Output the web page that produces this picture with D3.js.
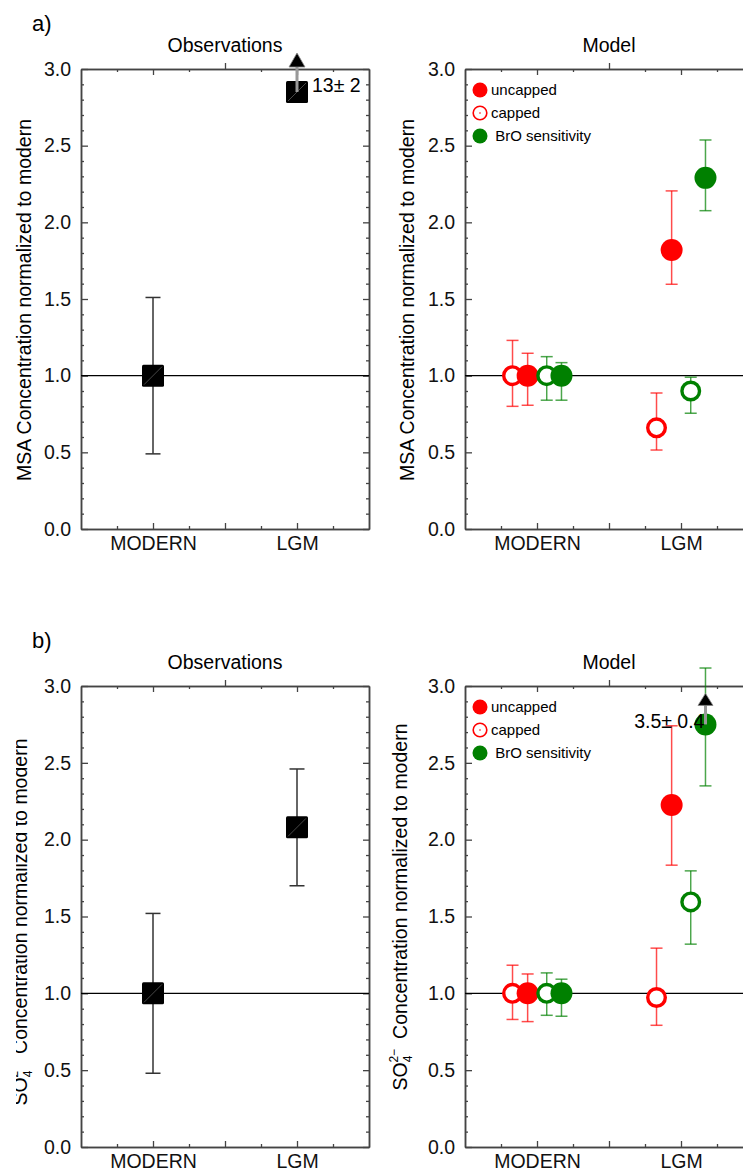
<!DOCTYPE html>
<html lang="en">
<head>
<meta charset="UTF-8">
<title>MSA and sulfate: LGM vs modern</title>
<script src="https://cdn.jsdelivr.net/npm/d3@7"></script>
<style>
  body { margin: 0; background: #fff; }
  svg { display: block; font-family: "Liberation Sans", Arial, sans-serif; }
</style>
</head>
<body>
<svg id="chart" width="743" height="1169"></svg>
<script>
// x categories live in a 0..8 frame
const categories = ["MODERN", "LGM"];
const categoryPos = [2, 6];
const yTicks = [0, 0.5, 1.0, 1.5, 2.0, 2.5, 3.0];

// observations (normalized to modern)
const obsMsaValue = [1.0, 2.85];
const obsMsaLow = [0.49, null];
const obsMsaHigh = [1.51, null];
const obsSo4Value = [1.0, 2.08];
const obsSo4Low = [0.48, 1.70];
const obsSo4High = [1.52, 2.46];

// model series: capped, uncapped, BrO capped, BrO sensitivity
const seriesNames = ["capped", "uncapped", "BrO capped", "BrO sensitivity"];
const modelMsaValue = [[1.0, 0.66], [1.0, 1.82], [1.0, 0.90], [1.0, 2.29]];
const modelMsaLow = [[0.80, 0.515], [0.807, 1.596], [0.84, 0.755], [0.84, 2.076]];
const modelMsaHigh = [[1.23, 0.887], [1.146, 2.205], [1.124, 0.99], [1.085, 2.537]];
const modelSo4Value = [[1.0, 0.973], [1.0, 2.225], [1.0, 1.595], [1.0, 2.75]];
const modelSo4Low = [[0.83, 0.792], [0.816, 1.834], [0.857, 1.32], [0.851, 2.35]];
const modelSo4High = [[1.183, 1.294], [1.126, 2.741], [1.133, 1.797], [1.092, 3.117]];

// off-scale values written next to an arrow
const obsMsaNote = [null, "13\u00b1 2"];
const modelSo4Note = [null, null, null, [null, "3.5\u00b1 0.4"]];

const legendItems = ["uncapped", "capped", " BrO sensitivity"];

// styling per model series
const seriesStyle = [
  { color: "#ff0000", open: true, dx: -0.68 },
  { color: "#ff0000", open: false, dx: -0.26 },
  { color: "#008000", open: true, dx: 0.27 },
  { color: "#008000", open: false, dx: 0.68 }
];

const svg = d3.select("#chart");
const FONT = 19.5;
const axisColor = "#444";

function styleAxis(g) {
  g.select(".domain").attr("stroke", axisColor).attr("stroke-width", 1.5);
  g.selectAll(".tick line").attr("stroke", axisColor).attr("stroke-width", 1.3);
  g.selectAll("text").attr("font-size", FONT).attr("fill", "#111")
    .attr("font-family", "Liberation Sans, Arial, sans-serif");
}

function so4Label(text) {
  text.append("tspan").text("SO");
  text.append("tspan").attr("font-size", 12).attr("dy", 5).text("4");
  text.append("tspan").attr("font-size", 12).attr("dx", -7).attr("dy", -14).text("2\u2212");
  text.append("tspan").attr("dy", 9).attr("dx", 10).text("Concentration normalized to modern");
}

function drawPanel(p) {
  const x = d3.scaleLinear().domain([0, 8]).range([p.left, p.left + 288]);
  const y = d3.scaleLinear().domain([0, 3]).range([p.bottom, p.top]);
  const g = svg.append("g");
  const minorY = d3.range(0, 31).map(d => d / 10).filter(d => Math.round(d * 10) % 5 !== 0);

  // frame with inward ticks
  g.append("g").attr("transform", `translate(${p.left},0)`)
    .call(d3.axisLeft(y).tickValues(minorY).tickSize(-3).tickSizeOuter(0).tickFormat(""))
    .call(styleAxis);
  g.append("g").attr("transform", `translate(${p.left},0)`)
    .call(d3.axisLeft(y).tickValues(yTicks).tickSize(-7).tickSizeOuter(0).tickPadding(10)
      .tickFormat(d3.format(".1f")))
    .call(styleAxis);
  g.append("g").attr("transform", `translate(${x.range()[1]},0)`)
    .call(d3.axisRight(y).tickValues(minorY).tickSize(-3).tickSizeOuter(0).tickFormat(""))
    .call(styleAxis);
  g.append("g").attr("transform", `translate(${x.range()[1]},0)`)
    .call(d3.axisRight(y).tickValues(yTicks).tickSize(-6).tickSizeOuter(0).tickFormat(""))
    .call(styleAxis);
  g.append("g").attr("transform", `translate(0,${p.top})`)
    .call(d3.axisTop(x).tickValues([1, 3, 5, 7]).tickSize(-3).tickSizeOuter(0).tickFormat(""))
    .call(styleAxis);
  g.append("g").attr("transform", `translate(0,${p.top})`)
    .call(d3.axisTop(x).tickValues([2, 4, 6]).tickSize(-6).tickSizeOuter(0).tickFormat(""))
    .call(styleAxis);
  g.append("g").attr("transform", `translate(0,${p.bottom})`)
    .call(d3.axisBottom(x).tickValues([1, 3, 4, 5, 7]).tickSize(-3).tickSizeOuter(0).tickFormat(""))
    .call(styleAxis);
  g.append("g").attr("transform", `translate(0,${p.bottom})`)
    .call(d3.axisBottom(x).tickValues(categoryPos).tickSize(-6).tickSizeOuter(0).tickPadding(7)
      .tickFormat((d, i) => categories[i]))
    .call(styleAxis);
  g.selectAll(".tick").filter(d => d === 4).select("line").attr("y2", -6);

  // title and y label
  g.append("text").attr("x", p.left + 144).attr("y", p.top - 17)
    .attr("text-anchor", "middle").attr("font-size", FONT).text(p.title);
  const labWrap = g.append("g");
  if (p.clipLabel) labWrap.attr("clip-path", "url(#labclip)");
  const lab = labWrap.append("text")
    .attr("transform", `translate(${p.labelX},${p.labelY}) rotate(-90)`)
    .attr("text-anchor", "middle").attr("font-size", FONT);
  if (p.so4) so4Label(lab); else lab.text("MSA Concentration normalized to modern");

  // reference line at 1.0
  g.append("line").attr("x1", x(0)).attr("x2", x(8)).attr("y1", y(1)).attr("y2", y(1))
    .attr("stroke", "#000").attr("stroke-width", 1.4);

  return { g, x, y };
}

function errorBar(g, cx, lo, hi, y, color, opacity, half) {
  g.append("line").attr("x1", cx).attr("x2", cx).attr("y1", y(lo)).attr("y2", y(hi))
    .attr("stroke", color).attr("stroke-width", 1.5).attr("stroke-opacity", opacity);
  [lo, hi].forEach(v => g.append("line")
    .attr("x1", cx - half).attr("x2", cx + half).attr("y1", y(v)).attr("y2", y(v))
    .attr("stroke", color).attr("stroke-width", 1.5).attr("stroke-opacity", opacity));
}

function upArrow(g, cx, cy, shaft, head, hw) {
  g.append("line").attr("x1", cx).attr("x2", cx).attr("y1", cy).attr("y2", cy - shaft)
    .attr("stroke", "#999").attr("stroke-width", 3);
  g.append("path")
    .attr("d", `M${cx - hw},${cy - shaft}L${cx + hw},${cy - shaft}L${cx},${cy - shaft - head}Z`)
    .attr("fill", "#000").attr("stroke", "#888").attr("stroke-width", 0.8);
}

function drawObs(panel, values, lows, highs, notes) {
  const { g, x, y } = panel;
  values.forEach((v, i) => {
    const cx = x(categoryPos[i]);
    if (lows[i] !== null) errorBar(g, cx, lows[i], highs[i], y, "#333", 1, 7.5);
    g.append("rect").attr("x", cx - 11).attr("y", y(v) - 11).attr("width", 22).attr("height", 22)
      .attr("rx", 1.5).attr("fill", "#000");
    g.append("line").attr("x1", cx - 9).attr("y1", y(v) + 9).attr("x2", cx + 9).attr("y2", y(v) - 9)
      .attr("stroke", "#777").attr("stroke-width", 0.6);
    if (notes[i]) {
      upArrow(g, cx, y(v), 25, 14, 8);
      g.append("text").attr("x", cx + 15).attr("y", y(v)).attr("font-size", FONT).text(notes[i]);
    }
  });
}

function drawModel(panel, values, lows, highs, notes) {
  const { g, x, y } = panel;
  values.forEach((row, s) => {
    const st = seriesStyle[s];
    row.forEach((v, i) => {
      const cx = x(categoryPos[i] + st.dx);
      errorBar(g, cx, lows[s][i], highs[s][i], y, st.color, 0.7, 6);
    });
  });
  values.forEach((row, s) => {
    const st = seriesStyle[s];
    row.forEach((v, i) => {
      const cx = x(categoryPos[i] + st.dx);
      if (st.open) {
        g.append("circle").attr("cx", cx).attr("cy", y(v)).attr("r", 8.8)
          .attr("fill", "#fff").attr("stroke", st.color).attr("stroke-width", 3.4);
      } else {
        g.append("circle").attr("cx", cx).attr("cy", y(v)).attr("r", 11).attr("fill", st.color);
      }
    });
  });
  notes.forEach((row, s) => {
    if (!row) return;
    row.forEach((note, i) => {
      if (!note) return;
      const cx = x(categoryPos[i] + seriesStyle[s].dx);
      upArrow(g, cx, y(values[s][i]), 19, 12, 7.5);
      g.append("text").attr("x", cx - 1).attr("y", y(values[s][i]) + 4)
        .attr("text-anchor", "end").attr("font-size", FONT).text(note);
    });
  });

  // legend
  const lx = x(0) + 15, ly = y(3);
  const leg = g.append("g").attr("font-size", 15);
  const markers = [
    { fill: "#ff0000", stroke: "none", r: 7.5 },
    { fill: "#fff", stroke: "#ff0000", r: 6.8 },
    { fill: "#008000", stroke: "none", r: 7.5 }
  ];
  legendItems.forEach((name, k) => {
    const cy = ly + 21 + k * 23;
    leg.append("circle").attr("cx", lx).attr("cy", cy).attr("r", markers[k].r)
      .attr("fill", markers[k].fill).attr("stroke", markers[k].stroke).attr("stroke-width", 1.6);
    if (k === 1) leg.append("circle").attr("cx", lx).attr("cy", cy).attr("r", 0.8).attr("fill", "#ff0000");
    leg.append("text").attr("x", lx + 11).attr("y", cy + 5).attr("xml:space", "preserve").text(name);
  });
}

svg.append("clipPath").attr("id", "labclip").attr("clipPathUnits", "userSpaceOnUse")
  .append("rect").attr("x", 16).attr("y", 0).attr("width", 743).attr("height", 1169);

// panel letters
svg.append("text").attr("x", 32).attr("y", 31).attr("font-size", 22).text("a)");
svg.append("text").attr("x", 32).attr("y", 648).attr("font-size", 22).text("b)");

const aObs = drawPanel({ left: 81, top: 69, bottom: 529, title: "Observations", labelX: 31, labelY: 300 });
drawObs(aObs, obsMsaValue, obsMsaLow, obsMsaHigh, obsMsaNote);
const aMod = drawPanel({ left: 465, top: 69, bottom: 529, title: "Model", labelX: 414, labelY: 300 });
drawModel(aMod, modelMsaValue, modelMsaLow, modelMsaHigh, [null, null, null, null]);

const bObs = drawPanel({ left: 81, top: 686, bottom: 1147, title: "Observations", labelX: 27, labelY: 922, so4: true, clipLabel: true });
drawObs(bObs, obsSo4Value, obsSo4Low, obsSo4High, [null, null]);
const bMod = drawPanel({ left: 465, top: 686, bottom: 1147, title: "Model", labelX: 407, labelY: 907, so4: true });
drawModel(bMod, modelSo4Value, modelSo4Low, modelSo4High, modelSo4Note);
</script>
</body>
</html>
